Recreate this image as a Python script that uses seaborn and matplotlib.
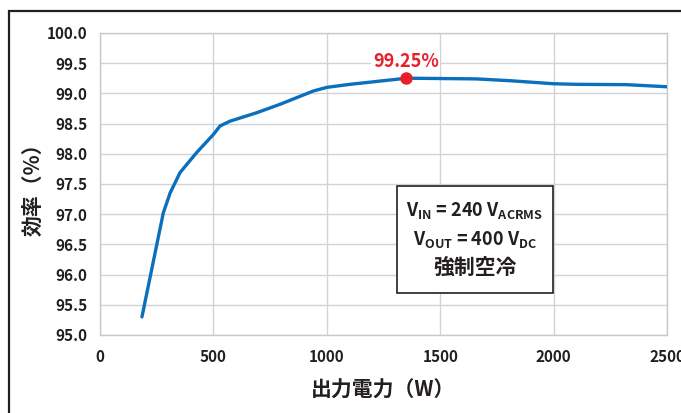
import matplotlib
matplotlib.use("Agg")
import matplotlib.pyplot as plt
import seaborn as sns
import pandas as pd
from matplotlib.patches import Rectangle

power_w = [185, 279, 309, 353, 426, 500, 529, 573, 691, 794, 941, 1000, 1102, 1348, 1400, 1660, 1808, 2000, 2100, 2320, 2500]
efficiency = [95.30, 97.02, 97.35, 97.69, 98.02, 98.32, 98.46, 98.54, 98.68, 98.82, 99.04, 99.10, 99.15, 99.25, 99.25, 99.24, 99.21, 99.16, 99.15, 99.145, 99.11]
peak_w = 1348
peak_eff = 99.25
peak_label = "99.25%"
x_ticks = [0, 500, 1000, 1500, 2000, 2500]
y_ticks = [95.0, 95.5, 96.0, 96.5, 97.0, 97.5, 98.0, 98.5, 99.0, 99.5, 100.0]

sns.set_theme(style="white")
LAT = "Noto Sans CJK JP"
plt.rcParams["font.family"] = [LAT, "DejaVu Sans"]
plt.rcParams["font.weight"] = "bold"
plt.rcParams["mathtext.fontset"] = "custom"
plt.rcParams["mathtext.rm"] = LAT + ":bold"
plt.rcParams["mathtext.it"] = LAT + ":bold"
plt.rcParams["mathtext.bf"] = LAT + ":bold"

df = pd.DataFrame({"power": power_w, "eff": efficiency})

fig = plt.figure(figsize=(6.81, 4.13), dpi=100)
ax = fig.add_axes([100/681, 1-335/413, (667-100)/681, (335-33)/413])

sns.lineplot(data=df, x="power", y="eff", ax=ax, color="#0a6fbd", linewidth=2.4, zorder=3)
ax.plot([peak_w], [peak_eff], "o", color="#e8202a", markersize=8, zorder=4)
ax.text(peak_w, peak_eff + 0.28, peak_label, color="#e8202a", fontsize=13, fontweight="bold",
        ha="center", va="center", zorder=5,
        bbox=dict(facecolor="white", edgecolor="none", pad=1))

ax.set_xlim(0, 2500)
ax.set_ylim(95.0, 100.0)
ax.set_xticks(x_ticks)
ax.set_yticks(y_ticks)
ax.set_xticklabels([str(v) for v in x_ticks])
ax.set_yticklabels([f"{v:.1f}" for v in y_ticks])
ax.tick_params(axis="both", length=0, labelsize=11, colors="#231f20")
ax.tick_params(axis="x", pad=10)
ax.tick_params(axis="y", pad=9)
for lab in ax.get_xticklabels() + ax.get_yticklabels():
    lab.set_fontweight("bold")
ax.grid(True, color="#d2d3d7", linewidth=1.0)
for sp in ax.spines.values():
    sp.set_color("#c8c9cd")
    sp.set_linewidth(1.0)

ax.set_xlabel("出力電力（W）", fontsize=15, fontweight="bold", color="#231f20", labelpad=11)
ax.set_ylabel("効率（%）", fontsize=15, fontweight="bold", color="#231f20")
ax.yaxis.set_label_coords(-0.1, 0.5)

# info box
bx0, bx1 = 397/681, 553/681
by0, by1 = 1-293/413, 1-186/413
fig.patches.append(Rectangle((bx0, by0), bx1-bx0, by1-by0, transform=fig.transFigure,
                             facecolor="white", edgecolor="#231f20", linewidth=1.2, zorder=5))
cx = (bx0 + bx1) / 2
fig.text(cx, 1-211/413, r"$\mathrm{V_{IN}}$ = 240 $\mathrm{V_{ACRMS}}$", ha="center", va="center",
         fontsize=13, color="#231f20", zorder=6)
fig.text(cx, 1-240/413, r"$\mathrm{V_{OUT}}$ = 400 $\mathrm{V_{DC}}$", ha="center", va="center",
         fontsize=13, color="#231f20", zorder=6)
fig.text(cx, 1-267/413, "強制空冷", ha="center", va="center", fontsize=15, fontweight="bold",
         color="#231f20", zorder=6)

# outer frame
fig.patches.append(Rectangle((9/681, -0.1), 1.2, 1.1 - 11/413, transform=fig.transFigure,
                             facecolor="none", edgecolor="#231f20", linewidth=1.6, zorder=0))

fig.savefig("out.png", dpi=100)
